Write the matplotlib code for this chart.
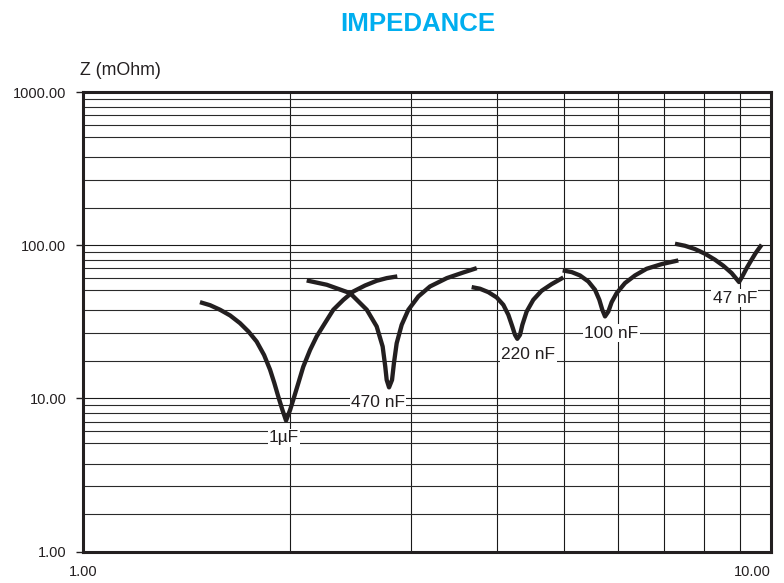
import matplotlib
matplotlib.use('Agg')
from matplotlib import pyplot

# impedance curves (frequency axis 1..10, Z in mOhm)
freq_1uf = [1.479, 1.530, 1.582, 1.636, 1.691, 1.740, 1.788, 1.833, 1.870, 1.897, 1.922, 1.949, 1.973,
            2.000, 2.021, 2.056, 2.090, 2.138, 2.186, 2.247, 2.311, 2.390, 2.471, 2.570, 2.672, 2.763, 2.863]
z_1uf = [42.5, 40.6, 37.9, 34.8, 31.0, 27.3, 23.5, 19.2, 15.4, 12.6, 10.3, 8.41, 7.16,
         8.41, 9.78, 12.6, 16.1, 20.7, 25.4, 31.0, 37.9, 44.0, 49.9, 54.6, 58.6, 61.0, 62.6]

freq_470n = [2.114, 2.261, 2.444, 2.585, 2.672, 2.726, 2.750, 2.763, 2.785, 2.813,
             2.831, 2.857, 2.905, 2.971, 3.072, 3.194, 3.379, 3.571, 3.735]
z_470n = [58.9, 55.2, 48.7, 37.9, 29.5, 21.8, 16.1, 13.2, 11.8, 13.2,
          17.0, 22.9, 30.2, 37.9, 46.3, 53.8, 61.0, 66.4, 70.9]

freq_220n = [3.672, 3.776, 3.883, 3.993, 4.083, 4.152, 4.207, 4.245, 4.278,
             4.317, 4.351, 4.414, 4.513, 4.640, 4.798, 4.991]
z_220n = [53.3, 52.0, 49.4, 45.6, 40.8, 35.1, 29.5, 26.0, 24.5,
          26.0, 30.2, 36.9, 44.0, 50.4, 55.7, 61.6]

freq_100n = [4.980, 5.132, 5.277, 5.426, 5.549, 5.630, 5.686, 5.738,
             5.802, 5.867, 5.966, 6.134, 6.343, 6.595, 6.936, 7.333]
z_100n = [68.5, 66.8, 63.5, 58.0, 51.2, 44.0, 37.9, 34.3,
          36.9, 42.5, 48.7, 56.6, 63.5, 70.2, 75.3, 79.6]

freq_47n = [7.252, 7.499, 7.754, 8.018, 8.291, 8.524, 8.766, 8.914, 8.985,
            9.085, 9.218, 9.352, 9.499, 9.692]
z_47n = [102.3, 99.2, 94.4, 88.0, 80.4, 73.5, 65.8, 60.1, 57.5,
         62.6, 70.9, 79.2, 88.9, 100.8]

curve_labels = ['1\u00b5F', '470 nF', '220 nF', '100 nF', '47 nF']

x_ticks = [1, 10]
x_tick_labels = ['1.00', '10.00']
y_ticks = [1, 10, 100, 1000]
y_tick_labels = ['1.00', '10.00', '100.00', '1000.00']

v_grid = [2, 3, 4, 5, 6, 7, 8, 9]
h_grid_steps = [1.75, 2.67, 3.75, 5.1, 6.1, 7.05, 8.05, 9.0]

curves = [(freq_1uf, z_1uf), (freq_470n, z_470n), (freq_220n, z_220n),
          (freq_100n, z_100n), (freq_47n, z_47n)]
label_offsets = [(-1.5, -12.5), (-8, -11), (8, -11.5), (4.5, -12), (-3, -11.5)]

pyplot.rcParams['font.family'] = ['Liberation Sans', 'DejaVu Sans']

fig = pyplot.figure(figsize=(7.84, 5.83), dpi=100)
ax = fig.add_axes([0.1059, 0.054, 0.8775, 0.788])

ax.set_xscale('log')
ax.set_yscale('log')
ax.set_xlim(1, 10)
ax.set_ylim(1, 1000)

# grid
for v in v_grid:
    ax.axvline(v, color='#1a1a1a', linewidth=0.8, zorder=1)
for decade in [1, 10, 100]:
    if decade > 1:
        ax.axhline(decade, color='#1a1a1a', linewidth=0.8, zorder=1)
    for s in h_grid_steps:
        ax.axhline(decade * s, color='#2a2a2a', linewidth=0.8, zorder=1)

# curves + labels
for (fx, zy), label, off in zip(curves, curve_labels, label_offsets):
    ax.plot(fx, zy, color='#231f20', linewidth=3.1, solid_joinstyle='round',
            solid_capstyle='butt', zorder=3)
    i_min = zy.index(min(zy))
    ax.annotate(label, (fx[i_min], zy[i_min]), xytext=off, textcoords='offset points',
                ha='center', va='center', fontsize=12.5, color='#231f20', zorder=4,
                bbox=dict(facecolor='white', edgecolor='none', pad=1.0))

ax.set_xticks(x_ticks)
ax.set_xticklabels(x_tick_labels)
ax.get_xticklabels()[-1].set_horizontalalignment('right')
ax.set_yticks(y_ticks)
ax.set_yticklabels(y_tick_labels)
ax.minorticks_off()
ax.tick_params(axis='x', length=0, pad=10, labelsize=10.5, colors='#231f20')
ax.tick_params(axis='y', length=5, width=1, pad=7, labelsize=10.5, colors='#231f20')

for sp in ax.spines.values():
    sp.set_linewidth(2.2)
    sp.set_color('#231f20')

fig.text(0.1015, 0.879, 'Z (mOhm)', fontsize=12.8, color='#231f20', ha='left', va='center')
fig.text(0.533, 0.958, 'IMPEDANCE', fontsize=18.6, fontweight='bold', color='#00aeef',
         ha='center', va='center')

pyplot.savefig('out.png', dpi=100)
